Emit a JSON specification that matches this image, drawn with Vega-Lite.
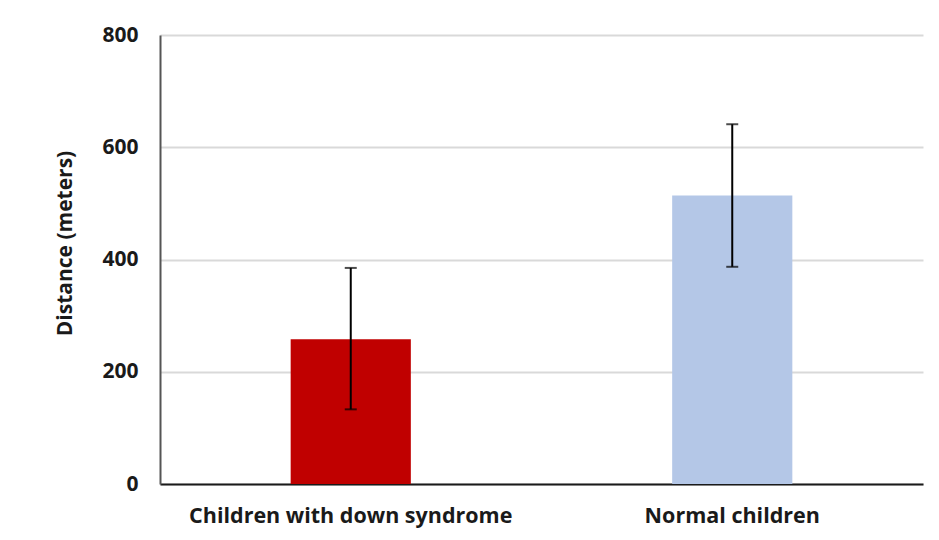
{
  "$schema": "https://vega.github.io/schema/vega-lite/v6.json",
  "width": 763,
  "height": 449,
  "autosize": "none",
  "padding": {"left": 160, "top": 35, "right": 16, "bottom": 56},
  "background": "white",
  "data": {"values": [
    {"group": "Children with down syndrome", "mean": 258, "low": 133, "high": 385},
    {"group": "Normal children", "mean": 514, "low": 387, "high": 641}
  ]},
  "config": {
    "view": {"stroke": null},
    "font": "Open Sans"
  },
  "encoding": {
    "x": {
      "field": "group", "type": "nominal", "sort": null,
      "scale": {"paddingInner": 0, "paddingOuter": 0},
      "axis": {
        "title": null, "labelAngle": 0, "labelFont": "Open Sans", "labelFontWeight": "bold",
        "labelFontSize": 21.5, "labelColor": "#1a1a1a", "labelPadding": 21, "ticks": false,
        "labelLimit": 0, "domainColor": "#1a1a1a", "domainWidth": 2
      }
    }
  },
  "layer": [
    {
      "mark": {"type": "bar", "width": {"band": 0.315}},
      "encoding": {
        "y": {
          "field": "mean", "type": "quantitative",
          "scale": {"domain": [0, 800]},
          "axis": {
            "title": "Distance (meters)", "titleFont": "Open Sans", "titleFontWeight": "bold",
            "titleFontSize": 21, "titleColor": "#1a1a1a", "titlePadding": 26, "titleY": 208,
            "values": [0, 200, 400, 600, 800], "labelFont": "Open Sans", "labelFontWeight": "bold",
            "labelFontSize": 21, "labelColor": "#1a1a1a", "labelPadding": 22, "ticks": false,
            "gridColor": "#d9d9d9", "gridWidth": 2, "domainColor": "#555555", "domainWidth": 2
          }
        },
        "color": {
          "field": "group", "type": "nominal", "legend": null,
          "scale": {"domain": ["Children with down syndrome", "Normal children"], "range": ["#C00000", "#B4C7E7"]}
        }
      }
    },
    {
      "mark": {"type": "rule", "color": "#000000", "strokeWidth": 2},
      "encoding": {
        "y": {"field": "low", "type": "quantitative"},
        "y2": {"field": "high"}
      }
    },
    {
      "mark": {"type": "tick", "color": "#000000", "thickness": 2, "size": 12, "orient": "horizontal"},
      "encoding": {"y": {"field": "low", "type": "quantitative"}}
    },
    {
      "mark": {"type": "tick", "color": "#000000", "thickness": 2, "size": 12, "orient": "horizontal"},
      "encoding": {"y": {"field": "high", "type": "quantitative"}}
    }
  ]
}
